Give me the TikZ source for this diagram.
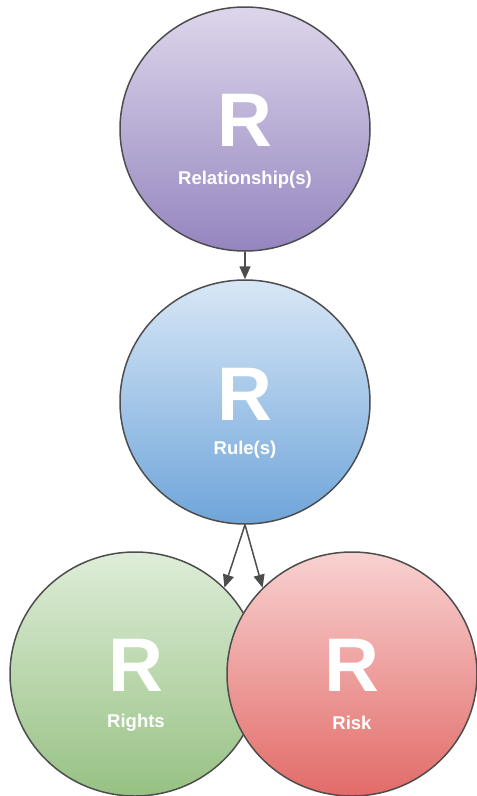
\documentclass[tikz,border=0pt]{standalone}
\usepackage{fontspec}
\setmainfont{Liberation Sans}
\usetikzlibrary{arrows.meta,shapes.geometric}
\definecolor{strokegray}{HTML}{4D4D4D}
\definecolor{purpleTop}{HTML}{DDD6EB}
\definecolor{purpleBot}{HTML}{9585BF}
\definecolor{blueTop}{HTML}{D8E7F6}
\definecolor{blueBot}{HTML}{6FA5DA}
\definecolor{greenTop}{HTML}{DEEDD8}
\definecolor{greenBot}{HTML}{97C183}
\definecolor{redTop}{HTML}{F8D2D1}
\definecolor{redBot}{HTML}{E26B68}
\tikzset{
  rball/.style={ellipse, draw=strokegray, line width=1.5pt, minimum width=250pt, minimum height=244pt, inner sep=0pt},
  bigr/.style={text=white, font=\fontsize{76}{76}\selectfont\bfseries, inner sep=0pt, anchor=center},
  rlabel/.style={text=white, font=\fontsize{18.5}{19}\selectfont\bfseries, inner sep=0pt, anchor=center},
  conn/.style={draw=strokegray, line width=1.5pt, -{Triangle[length=13pt,width=11pt]}}
}
\begin{document}
\begin{tikzpicture}[x=1pt,y=-1pt]
\useasboundingbox (0,0) rectangle (477,796);
\node[rball, top color=purpleTop, bottom color=purpleBot] (rel) at (245,129) {};
\node[rball, top color=blueTop, bottom color=blueBot] (rule) at (245,402) {};
\node[rball, top color=greenTop, bottom color=greenBot] (rights) at (135,674) {};
\node[rball, top color=redTop, bottom color=redBot] (risk) at (352,674) {};
\node[bigr] (relR) at (245,120) {R};
\node[rlabel] (relL) at (245,180) {Relationship(s)};
\node[bigr] (ruleR) at (245,394) {R};
\node[rlabel] (ruleL) at (245,450) {Rule(s)};
\node[bigr] (rightsR) at (136,665) {R};
\node[rlabel] (rightsL) at (136,723) {Rights};
\node[bigr] (riskR) at (352,665) {R};
\node[rlabel] (riskL) at (352,723) {Risk};
\draw[conn] (rel.south) -- (rule.north);
\draw[conn] (rule.south) -- (rights.44);
\draw[conn] (rule.south) -- (risk.136);
\end{tikzpicture}
\end{document}
